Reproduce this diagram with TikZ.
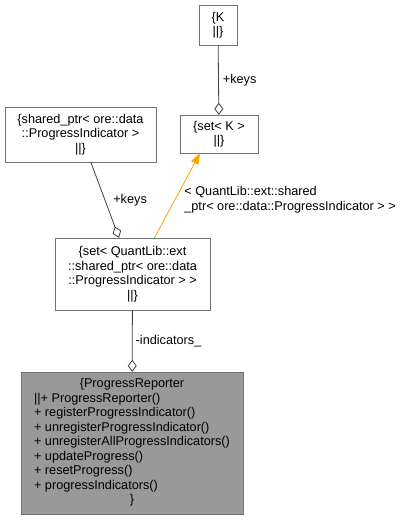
\documentclass[tikz,border=0pt]{standalone}
\usepackage{fontspec}
\setmainfont{Liberation Sans}
\usetikzlibrary{arrows.meta, positioning}
\definecolor{edgegray}{HTML}{404040}
\definecolor{boxgray}{HTML}{999999}
\definecolor{linkorange}{HTML}{FFA500}

\begin{document}
\begin{tikzpicture}[x=1pt, y=-1pt,
    record/.style={draw=black!55, fill=white, inner sep=0pt, align=center,
                   font=\fontsize{12.7}{14.5}\selectfont},
    aggr/.style={draw=edgegray, line width=0.8pt,
                 -{Diamond[open, length=12pt, width=9pt, line width=0.8pt]}},
    tmpl/.style={draw=linkorange, line width=0.8pt,
                 -{Triangle[length=11pt, width=8pt]}},
    lbl/.style={font=\fontsize{12.7}{14.5}\selectfont, align=left, inner sep=0pt}
  ]
    \useasboundingbox (0,0) rectangle (410,520);

    \node[record, minimum width=38pt, minimum height=40pt] (K) at (218,25) {\{K\\||\}};
    \node[record, minimum width=78pt, minimum height=38pt] (setK) at (219,134) {\{set< K >\\||\}};
    \node[record, minimum width=151pt, minimum height=55pt] (shptr) at (80.5,134.5)
      {\{shared\_ptr< ore::data\\::ProgressIndicator >\\||\}};
    \node[record, minimum width=155pt, minimum height=72pt] (setQL) at (132.5,274)
      {\{set< QuantLib::ext\\::shared\_ptr< ore::data\\::ProgressIndicator > >\\||\}};
    \node[record, fill=boxgray, minimum width=222pt, minimum height=142pt] (reporter) at (132,443)
      {\begin{tabular}{@{}l@{}}
        \multicolumn{1}{@{}c@{}}{\{ProgressReporter}\\
        ||+ ProgressReporter()\\
        + registerProgressIndicator()\\
        + unregisterProgressIndicator()\\
        + unregisterAllProgressIndicators()\\
        + updateProgress()\\
        + resetProgress()\\
        + progressIndicators()\\
        \multicolumn{1}{@{}c@{}}{\}}
       \end{tabular}};

    % ownership edges
    \draw[aggr] (K) -- node[lbl, right=4pt] {+keys} (setK);
    \draw[aggr] (shptr) -- node[lbl, right=8pt, pos=0.5] {+keys} (setQL);
    \draw[aggr] (setQL) -- node[lbl, right=3pt] {-indicators\_} (reporter);

    % template instance
    \draw[tmpl] ([xshift=22pt]setQL.north) -- ([xshift=-19pt]setK.south)
      node[lbl, pos=0.45, right=9pt] {< QuantLib::ext::shared\\\_ptr< ore::data::ProgressIndicator > >};
\end{tikzpicture}
\end{document}
